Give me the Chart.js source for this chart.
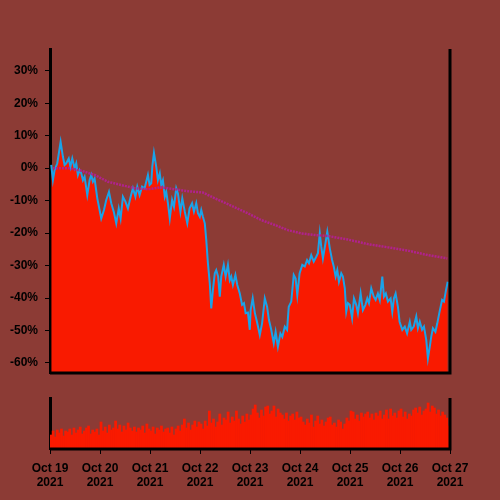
<!DOCTYPE html>
<html>
<head>
<meta charset="utf-8">
<script src="https://cdn.jsdelivr.net/npm/chart.js@4.4.0/dist/chart.umd.min.js"></script>
<style>
  html, body { margin: 0; padding: 0; background: #8c3b35; }
  #wrap { position: relative; width: 500px; height: 500px; }
  #wrap canvas { position: absolute; left: 0; top: 0; }
</style>
</head>
<body>
<div id="wrap">
  <canvas id="chartVolume" width="500" height="500"></canvas>
  <canvas id="chartPrice" width="500" height="500"></canvas>
</div>
<script>
// hours since Oct 19 00:00 -> % change
const priceHours = [0.6, 1.4, 2.2, 3.5, 5.1, 6.2, 7.0, 7.8, 9.0, 9.8, 10.7, 11.8, 12.6, 13.4, 14.2, 15.0, 15.8, 16.6, 17.9, 19.0,
  19.8, 20.6, 21.4, 22.7, 23.8, 24.6, 25.9, 27.0, 28.3, 29.4, 30.6, 31.8, 33.0, 33.9, 35.0, 36.2, 37.4, 38.7, 39.8, 41.0,
  41.9, 43.0, 44.2, 45.4, 47.0, 47.8, 48.6, 49.1, 49.9, 51.0, 51.8, 52.7, 53.4, 54.2, 55.1, 55.8, 56.6, 57.5, 58.6, 59.5,
  60.6, 61.4, 62.6, 63.5, 64.7, 65.9, 67.0, 68.2, 69.1, 70.2, 71.0, 71.9, 72.6, 73.4, 74.3, 75.0, 75.8, 76.7, 77.4, 78.2,
  79.1, 79.8, 80.7, 81.5, 82.2, 83.4, 84.3, 85.4, 86.3, 87.0, 87.8, 89.0, 89.9, 91.1, 92.2, 93.1, 93.9, 95.0, 95.9, 96.3,
  97.3, 98.3, 99.5, 100.7, 101.8, 103.1, 104.2, 105.1, 106.2, 107.4, 108.3, 109.4, 110.6, 111.5, 112.7, 113.8, 114.6, 115.8, 117.0, 117.9,
  118.7, 119.8, 121.1, 122.3, 123.4, 124.3, 125.4, 126.6, 127.8, 128.6, 129.5, 130.2, 131.0, 132.2, 133.1, 134.3, 135.4, 136.2, 137.1, 137.9,
  138.7, 139.8, 140.6, 141.5, 142.2, 143.0, 143.9, 145.0, 145.9, 147.0, 147.8, 149.1, 150.2, 151.4, 152.3, 153.1, 154.2, 155.4, 156.3, 157.4,
  158.3, 159.5, 160.3, 161.2, 162.2, 163.5, 164.3, 165.1, 165.9, 167.0, 167.8, 169.1, 170.3, 171.4, 172.7, 173.4, 174.6, 175.8, 176.6, 177.5,
  178.6, 179.5, 180.6, 181.4, 182.3, 183.0, 183.8, 185.0, 185.9, 187.0, 188.2, 189.1, 190.1, 190.9];
const priceValues = [1.0, -3.7, -0.6, 1.5, 8.1, 3.5, 1.0, 1.5, 3.0, 0.4, 3.0, 0.0, 1.5, -2.1, -0.6, -1.6, -3.7, -2.6, -8.3, -3.7,
  -2.1, -4.2, -3.2, -9.3, -12.9, -15.5, -12.9, -9.8, -7.3, -10.8, -13.4, -17.0, -12.4, -15.5, -8.8, -10.3, -12.4, -8.8, -6.2, -8.8,
  -5.7, -8.3, -5.7, -6.2, -2.1, -5.2, -4.7, 0.4, 4.7, 0.4, -3.7, -1.6, -5.2, -3.7, -8.8, -7.3, -10.8, -15.5, -9.8, -11.9,
  -6.2, -7.8, -13.4, -9.3, -13.4, -17.0, -12.4, -10.8, -13.4, -10.8, -13.9, -15.0, -12.9, -15.0, -17.0, -22.1, -29.3, -35.5, -43.2, -37.5,
  -32.4, -31.4, -33.4, -39.6, -33.4, -29.8, -33.4, -29.8, -34.5, -33.4, -36.0, -32.9, -36.0, -38.6, -42.1, -41.6, -44.7, -44.5, -49.8, -43.7,
  -40.1, -44.5, -47.8, -51.4, -47.8, -40.1, -42.7, -46.8, -49.8, -53.9, -50.4, -55.0, -50.9, -52.0, -48.8, -49.8, -42.7, -41.1, -32.9, -34.0,
  -39.1, -32.4, -29.8, -30.3, -28.3, -29.3, -26.8, -28.8, -27.3, -26.2, -20.1, -24.2, -27.8, -23.2, -19.6, -24.7, -28.3, -30.3, -33.4, -31.4,
  -35.0, -32.4, -33.4, -37.0, -44.2, -41.6, -42.1, -46.2, -40.1, -42.1, -44.7, -38.6, -43.7, -42.1, -40.1, -41.6, -37.0, -39.6, -40.6, -38.6,
  -40.6, -33.4, -39.6, -38.6, -41.1, -40.1, -44.2, -40.1, -38.6, -42.7, -47.3, -49.8, -48.8, -50.9, -47.3, -49.8, -48.8, -45.7, -49.3, -47.3,
  -49.8, -48.8, -52.9, -58.6, -55.0, -51.9, -49.3, -50.4, -47.8, -44.2, -40.6, -41.1, -37.5, -35.0];

// moving average
const maHours = [1.4, 8.6, 15.0, 21.5, 27.8, 34.2, 40.7, 47.0, 53.4, 59.9, 66.2, 73.4, 79.1, 85.4,
  95.0, 101.4, 107.9, 114.2, 120.6, 127.1, 133.4, 143.0, 152.6, 162.2, 171.8, 181.4, 190.7];
const maValues = [0.0, 0.0, -0.8, -2.1, -4.2, -5.2, -6.2, -6.5, -5.9, -6.5, -7.1, -7.5, -9.3, -11.1,
  -13.9, -16.0, -17.5, -19.1, -20.1, -20.6, -20.9, -22.0, -23.4, -24.4, -25.4, -26.8, -27.8];

// hourly volume (relative units)
const volumeValues = [
  14, 18, 12, 19, 16, 20, 13, 18,  17, 20, 14, 21, 16, 19, 22, 15,
  18, 21, 23, 15, 19, 17, 20, 14,  27, 18, 22, 16, 24, 19, 21, 28,
  20, 24, 17, 23, 19, 26, 21, 18,  22, 17, 21, 19, 23, 16, 25, 20,
  18, 22, 15, 21, 19, 23, 17, 20,  21, 16, 22, 14, 20, 23, 18, 24,
  30, 21, 26, 19, 24, 28, 22, 27,  25, 20, 28, 23, 38, 26, 30, 22,
  27, 35, 24, 31, 29, 37, 26, 32,  28, 38, 30, 25, 33, 27, 35, 29,
  34, 40, 44, 36, 31, 39, 33, 42,  43, 35, 38, 43, 32, 40, 36, 34,
  30, 36, 28, 33, 35, 29, 37, 31,  32, 27, 24, 30, 26, 34, 22, 28,
  33, 25, 29, 23, 27, 31, 32, 24,  26, 22, 29, 27, 20, 25, 31, 28,
  38, 37, 30, 34, 28, 36, 32, 35,  37, 31, 35, 29, 36, 33, 38, 30,
  34, 39, 30, 40, 33, 36, 31, 38,  40, 32, 37, 30, 35, 33, 39, 41,
  36, 42, 34, 38, 40, 46, 37, 43,  41, 35, 39, 33, 37, 34, 31, 23
];

const yTicks = [-60, -50, -40, -30, -20, -10, 0, 10, 20, 30];
const dayTicks = [0, 24, 48, 72, 96, 120, 144, 168, 192];
const dayLabels = [["Oct 19", "2021"], ["Oct 20", "2021"], ["Oct 21", "2021"], ["Oct 22", "2021"], ["Oct 23", "2021"],
  ["Oct 24", "2021"], ["Oct 25", "2021"], ["Oct 26", "2021"], ["Oct 27", "2021"]];

const COL = {
  fill: "#f91a00",
  line: "#1aa3e8",
  ma: "#b0228c",
  ink: "#000"
};

Chart.defaults.font.family = "'Liberation Sans', Arial, sans-serif";
Chart.defaults.font.size = 12;
Chart.defaults.font.weight = "bold";
Chart.defaults.color = COL.ink;
Chart.defaults.animation = false;

// right + bottom frame lines
const frameBorders = {
  id: "frameBorders",
  afterDraw(chart) {
    const { ctx, chartArea: a } = chart;
    ctx.save();
    ctx.strokeStyle = COL.ink;
    ctx.lineWidth = 3;
    ctx.beginPath();
    ctx.moveTo(a.left, a.bottom);
    ctx.lineTo(a.right, a.bottom);
    ctx.lineTo(a.right, a.top);
    ctx.stroke();
    ctx.restore();
  }
};

new Chart(document.getElementById("chartPrice"), {
  type: "line",
  data: {
    datasets: [{
      data: priceHours.map((h, i) => ({ x: h, y: priceValues[i] })),
      borderColor: COL.line,
      backgroundColor: COL.fill,
      borderWidth: 2,
      pointRadius: 0,
      fill: "start",
      order: 2
    }, {
      data: maHours.map((h, i) => ({ x: h, y: maValues[i] })),
      borderColor: COL.ma,
      borderWidth: 2.5,
      borderDash: [2, 1],
      pointRadius: 0,
      fill: false,
      order: 1
    }]
  },
  options: {
    responsive: false,
    layout: { padding: { left: 0, right: 50, top: 49, bottom: 127 } },
    plugins: { legend: { display: false }, tooltip: { enabled: false } },
    scales: {
      x: { type: "linear", min: 0, max: 192, display: false },
      y: {
        min: -63.1,
        max: 36.7,
        afterBuildTicks: s => { s.ticks = yTicks.map(v => ({ value: v })); },
        afterFit: s => { s.width = 50; },
        ticks: { callback: v => v + "%", padding: 7, color: COL.ink },
        grid: { drawOnChartArea: false, drawTicks: true, tickLength: 5, color: COL.ink },
        border: { color: COL.ink, width: 3 }
      }
    }
  },
  plugins: [frameBorders]
});

new Chart(document.getElementById("chartVolume"), {
  type: "bar",
  data: {
    datasets: [{
      data: volumeValues.map((v, i) => ({ x: i + 0.5, y: v })),
      backgroundColor: COL.fill,
      borderWidth: 0,
      barPercentage: 1,
      categoryPercentage: 1
    }]
  },
  options: {
    responsive: false,
    layout: { padding: { left: 0, right: 50, top: 398, bottom: 0 } },
    plugins: { legend: { display: false }, tooltip: { enabled: false } },
    scales: {
      x: {
        type: "linear",
        min: 0,
        max: 192,
        offset: false,
        afterBuildTicks: s => { s.ticks = dayTicks.map(v => ({ value: v })); },
        afterFit: s => { s.height = 51; },
        ticks: { callback: (v, i) => dayLabels[i], padding: 7, maxRotation: 0, color: COL.ink },
        grid: { offset: false, drawOnChartArea: false, drawTicks: true, tickLength: 5, color: COL.ink },
        border: { display: false }
      },
      y: {
        min: 0,
        max: 51,
        afterFit: s => { s.width = 50; },
        ticks: { display: false },
        grid: { display: false },
        border: { color: COL.ink, width: 3 }
      }
    }
  },
  plugins: [frameBorders]
});
</script>
</body>
</html>
